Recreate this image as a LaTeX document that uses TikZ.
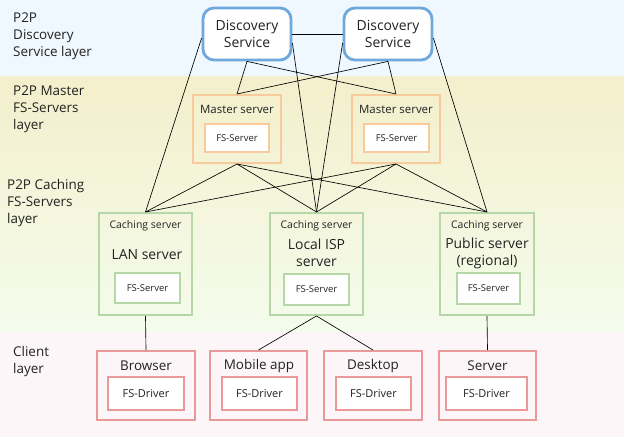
\documentclass[tikz,border=0pt]{standalone}
\usepackage{fontspec}
\setmainfont{Open Sans}
\usetikzlibrary{positioning}

\definecolor{bandblue}{HTML}{EEF8FE}
\definecolor{bandyellow}{HTML}{F4EFCC}
\definecolor{bandgreen}{HTML}{F4FCEC}
\definecolor{bandpink}{HTML}{FDF6F8}
\definecolor{discline}{HTML}{6FA8DC}
\definecolor{masterline}{HTML}{F9CB9C}
\definecolor{cacheline}{HTML}{B6D7A8}
\definecolor{clientline}{HTML}{EA9999}
\definecolor{txt}{HTML}{222222}

\tikzset{
  layerlabel/.style={anchor=west, align=left, inner sep=0pt, text=txt,
    font=\fontsize{13.5}{17}\selectfont},
  discbox/.style={draw=discline, line width=2.8bp, rounded corners=11bp, fill=white,
    minimum width=88bp, minimum height=52bp, align=center, text=txt,
    font=\fontsize{14}{17}\selectfont},
  outerbox/.style={line width=2bp, inner sep=0pt},
  innerbox/.style={line width=2bp, fill=white, inner sep=0pt, text=txt},
  boxtitle/.style={inner sep=0pt, text=txt, align=center},
  edge/.style={line width=0.65bp, black},
}

\begin{document}
\begin{tikzpicture}[x=1bp,y=-1bp]

\useasboundingbox (0,0) rectangle (624,437);

% Bands
\fill[bandblue] (0,0) rectangle (624,77);
\shade[top color=bandyellow, bottom color=bandgreen] (0,77) rectangle (624,332);
\fill[bandpink] (0,332) rectangle (624,437);

% Layer labels
\node[layerlabel] (Ldisc) at (13,36) {P2P\\Discovery\\Service layer};
\node[layerlabel] (Lmaster) at (13,109) {P2P Master\\FS-Servers\\layer};
\node[layerlabel] (Lcache) at (7,203) {P2P Caching\\FS-Servers\\layer};
\node[layerlabel] (Lclient) at (13,361.5) {Client\\layer};

% Node: discovery
\node[discbox] (DL) at (247,34) {Discovery\\Service};
\node[discbox] (DR) at (388,34) {Discovery\\Service};

% Node: masters
\node[outerbox, draw=masterline, minimum width=88bp, minimum height=68bp] (ML) at (237,129) {};
\node[boxtitle, font=\fontsize{11.5}{13}\selectfont] (MLt) at (237,109) {Master server};
\node[innerbox, draw=masterline, minimum width=64bp, minimum height=28bp,
  font=\fontsize{9.5}{10}\selectfont] (MLi) at (237,138) {FS-Server};

\node[outerbox, draw=masterline, minimum width=88bp, minimum height=68bp] (MR) at (396,129) {};
\node[boxtitle, font=\fontsize{11.5}{13}\selectfont] (MRt) at (396,109) {Master server};
\node[innerbox, draw=masterline, minimum width=65bp, minimum height=28bp,
  font=\fontsize{9.5}{10}\selectfont] (MRi) at (396.5,138) {FS-Server};

% Node: caching servers
\node[outerbox, draw=cacheline, minimum width=93bp, minimum height=102bp] (CL) at (145.5,264) {};
\node[boxtitle, font=\fontsize{10.5}{12}\selectfont] (CLt) at (145.5,226) {Caching server};
\node[boxtitle, font=\fontsize{14}{17.5}\selectfont] (CLn) at (147,255) {LAN server};
\node[innerbox, draw=cacheline, minimum width=65bp, minimum height=30bp,
  font=\fontsize{9.5}{10}\selectfont] (CLi) at (147.5,288) {FS-Server};

\node[outerbox, draw=cacheline, minimum width=93bp, minimum height=102bp] (CM) at (316.5,264) {};
\node[boxtitle, font=\fontsize{10.5}{12}\selectfont] (CMt) at (316.5,226) {Caching server};
\node[boxtitle, font=\fontsize{14}{17.5}\selectfont] (CMn) at (316.5,253) {Local ISP\\server};
\node[innerbox, draw=cacheline, minimum width=65bp, minimum height=31bp,
  font=\fontsize{9.5}{10}\selectfont] (CMi) at (316.5,289.5) {FS-Server};

\node[outerbox, draw=cacheline, minimum width=94bp, minimum height=102bp] (CR) at (487,264) {};
\node[boxtitle, font=\fontsize{10.5}{12}\selectfont] (CRt) at (487,226) {Caching server};
\node[boxtitle, font=\fontsize{14}{17.5}\selectfont] (CRn) at (487,253.5) {Public server\\(regional)};
\node[innerbox, draw=cacheline, minimum width=63bp, minimum height=31bp,
  font=\fontsize{9.5}{10}\selectfont] (CRi) at (488.5,288.5) {FS-Server};

% Node: clients
\node[outerbox, draw=clientline, minimum width=98bp, minimum height=69bp] (CB) at (146,385.5) {};
\node[boxtitle, font=\fontsize{13.5}{15}\selectfont] (CBt) at (146,366) {Browser};
\node[innerbox, draw=clientline, minimum width=76bp, minimum height=33bp,
  font=\fontsize{11}{12}\selectfont] (CBi) at (146,393.5) {FS-Driver};

\node[outerbox, draw=clientline, minimum width=97bp, minimum height=69bp] (CA) at (258.5,385.5) {};
\node[boxtitle, font=\fontsize{13.5}{15}\selectfont] (CAt) at (259,366) {Mobile app};
\node[innerbox, draw=clientline, minimum width=75bp, minimum height=33bp,
  font=\fontsize{11}{12}\selectfont] (CAi) at (259.5,393.5) {FS-Driver};

\node[outerbox, draw=clientline, minimum width=98bp, minimum height=69bp] (CD) at (373,385.5) {};
\node[boxtitle, font=\fontsize{13.5}{15}\selectfont] (CDt) at (373,366) {Desktop};
\node[innerbox, draw=clientline, minimum width=75bp, minimum height=33bp,
  font=\fontsize{11}{12}\selectfont] (CDi) at (373.5,393.5) {FS-Driver};

\node[outerbox, draw=clientline, minimum width=97bp, minimum height=69bp] (CS) at (487.5,385.5) {};
\node[boxtitle, font=\fontsize{13.5}{15}\selectfont] (CSt) at (487.5,366) {Server};
\node[innerbox, draw=clientline, minimum width=81bp, minimum height=33bp,
  font=\fontsize{11}{12}\selectfont] (CSi) at (486.5,393.5) {FS-Driver};

% Edge: discovery <-> discovery
\draw[edge] (DL.east) -- (DR.west);

% Edges: discovery -> masters
\draw[edge] (DL.south) -- (ML.north);
\draw[edge] (DL.south) -- (MR.north);
\draw[edge] (DR.south) -- (ML.north);
\draw[edge] (DR.south) -- (MR.north);

% Edges: discovery -> caching
\draw[edge] ([yshift=-4bp]DL.west) -- (CL.north);
\draw[edge] ([yshift=-9bp]DL.east) -- (CM.north);
\draw[edge] ([yshift=-9bp]DR.west) -- (CM.north);
\draw[edge] ([yshift=-4bp]DR.east) -- (CR.north);

% Edges: masters -> caching
\foreach \m in {ML,MR}
  \foreach \c in {CL,CM,CR}
    \draw[edge] (\m.south) -- (\c.north);

% Edges: caching -> clients
\draw[edge] (CL.south) -- (CB.north);
\draw[edge] (CM.south) -- (CA.north);
\draw[edge] (CM.south) -- (CD.north);
\draw[edge] (CR.south) -- (CS.north);

\end{tikzpicture}
\end{document}
